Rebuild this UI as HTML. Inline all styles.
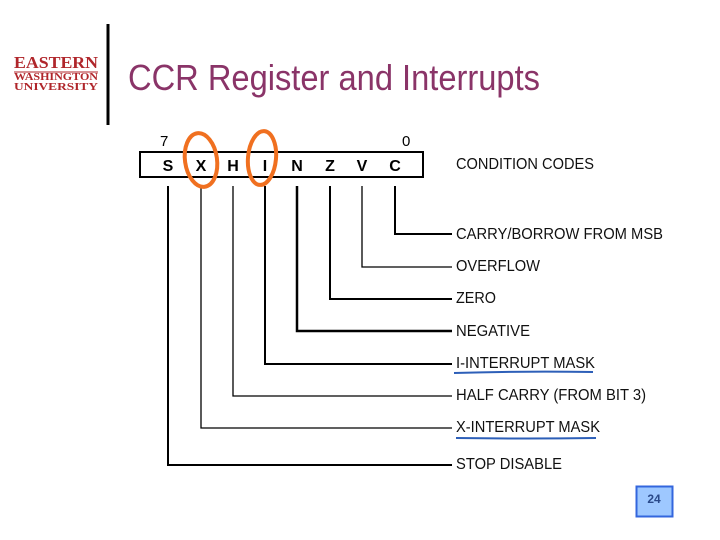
<!DOCTYPE html>
<html><head><meta charset="utf-8"><style>
html,body{margin:0;padding:0;background:#fff;width:720px;height:540px;overflow:hidden}
svg{display:block}
</style></head><body>
<svg width="720" height="540" viewBox="0 0 720 540" xmlns="http://www.w3.org/2000/svg" font-family="Liberation Sans, sans-serif">
<rect width="720" height="540" fill="#fff"/>
<!-- logo -->
<text x="56" y="68" font-family="Liberation Serif, serif" font-weight="bold" font-size="17" fill="#b0262b" text-anchor="middle" textLength="84" lengthAdjust="spacingAndGlyphs">EASTERN</text>
<line x1="14" y1="72" x2="98" y2="72" stroke="#b0262b" stroke-width="1"/>
<text x="56" y="80" font-family="Liberation Serif, serif" font-weight="bold" font-size="10" fill="#b0262b" text-anchor="middle" textLength="84" lengthAdjust="spacingAndGlyphs">WASHINGTON</text>
<text x="56" y="90" font-family="Liberation Serif, serif" font-weight="bold" font-size="10" fill="#b0262b" text-anchor="middle" textLength="84" lengthAdjust="spacingAndGlyphs">UNIVERSITY</text>
<line x1="108" y1="24" x2="108" y2="125" stroke="#000" stroke-width="3"/>
<text x="128" y="90" font-size="36" fill="#8a3468" textLength="412" lengthAdjust="spacingAndGlyphs">CCR Register and Interrupts</text>
<!-- register -->
<text x="160" y="146" font-size="15">7</text>
<text x="402" y="146" font-size="15">0</text>
<rect x="140" y="152" width="283" height="25" fill="none" stroke="#000" stroke-width="2"/>
<g font-size="16" font-weight="bold" text-anchor="middle">
<text x="168" y="171">S</text><text x="201" y="171">X</text><text x="233" y="171">H</text><text x="265" y="171">I</text>
<text x="297" y="171">N</text><text x="330" y="171">Z</text><text x="362" y="171">V</text><text x="395" y="171">C</text>
</g>
<g fill="none" stroke="#000">
<polyline points="395,186 395,234 452,234" stroke-width="2"/>
<polyline points="362,186 362,267 452,267" stroke-width="1.3"/>
<polyline points="330,186 330,299 452,299" stroke-width="2"/>
<polyline points="297,186 297,331 452,331" stroke-width="2.5"/>
<polyline points="265,186 265,364 452,364" stroke-width="2"/>
<polyline points="233,186 233,396 452,396" stroke-width="1.3"/>
<polyline points="201,186 201,428 452,428" stroke-width="1.3"/>
<polyline points="168,186 168,465 452,465" stroke-width="2"/>
</g>
<g font-size="16" fill="#111">
<text x="456" y="169" textLength="138" lengthAdjust="spacingAndGlyphs">CONDITION CODES</text>
<text x="456" y="239" textLength="207" lengthAdjust="spacingAndGlyphs">CARRY/BORROW FROM MSB</text>
<text x="456" y="271" textLength="84" lengthAdjust="spacingAndGlyphs">OVERFLOW</text>
<text x="456" y="303" textLength="40" lengthAdjust="spacingAndGlyphs">ZERO</text>
<text x="456" y="336" textLength="74" lengthAdjust="spacingAndGlyphs">NEGATIVE</text>
<text x="456" y="368" textLength="139" lengthAdjust="spacingAndGlyphs">I-INTERRUPT MASK</text>
<text x="456" y="400" textLength="190" lengthAdjust="spacingAndGlyphs">HALF CARRY (FROM BIT 3)</text>
<text x="456" y="432" textLength="144" lengthAdjust="spacingAndGlyphs">X-INTERRUPT MASK</text>
<text x="456" y="469" textLength="106" lengthAdjust="spacingAndGlyphs">STOP DISABLE</text>
</g>
<path d="M454 373 Q520 371 593 372" stroke="#2d5fb8" stroke-width="2" fill="none"/>
<path d="M456 438 Q525 439 596 438" stroke="#2d5fb8" stroke-width="2" fill="none"/>
<!-- orange circles -->
<ellipse cx="201" cy="160" rx="16" ry="27" fill="none" stroke="#f07020" stroke-width="4" transform="rotate(-8 201 160)"/>
<ellipse cx="262" cy="158" rx="14" ry="27" fill="none" stroke="#f07020" stroke-width="4" transform="rotate(5 262 158)"/>
<!-- page number -->
<rect x="636.5" y="486.5" width="36" height="30" fill="#9ec8ff" stroke="#3366dd" stroke-width="2"/>
<text x="654" y="503" font-size="12" font-weight="bold" fill="#2a4a8a" text-anchor="middle">24</text>
</svg>
</body></html>
